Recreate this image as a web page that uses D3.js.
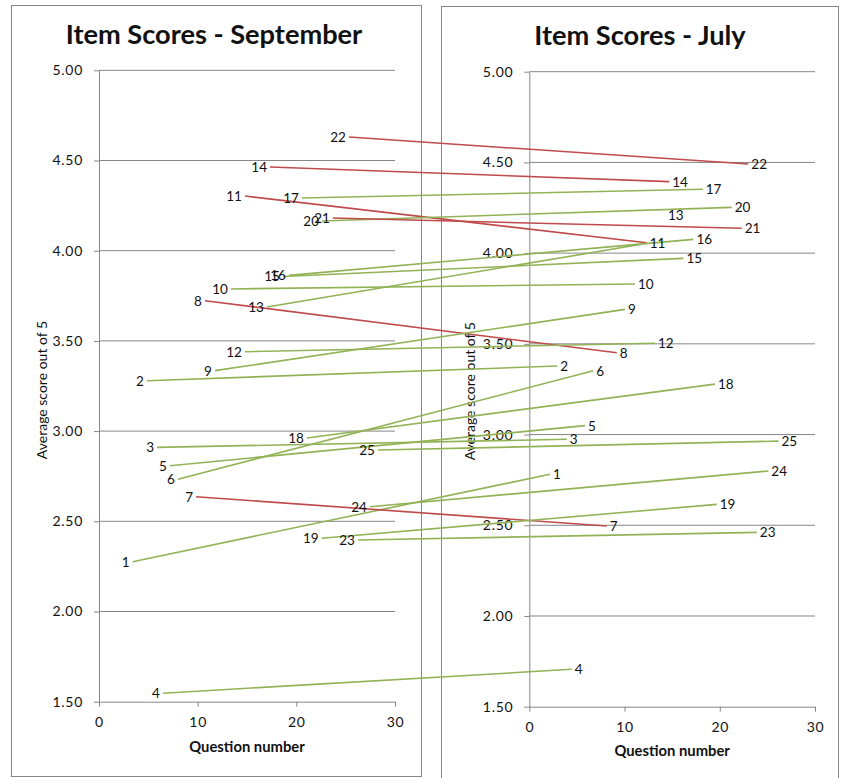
<!DOCTYPE html>
<html>
<head>
<meta charset="utf-8">
<title>Item Scores - September / July</title>
<script src="https://cdn.jsdelivr.net/npm/d3@7"></script>
<style>
  body { margin: 0; background: #fff; }
  svg { display: block; }
</style>
</head>
<body>
<svg id="chart" width="845" height="778"></svg>
<script>
// Item numbers
const items = [1, 2, 3, 4, 5, 6, 7, 8, 9, 10, 11, 12, 13, 14, 15, 16, 17, 18, 19, 20, 21, 22, 23, 24, 25];

// September: plotted question position and average score
const septX = [3.41, 4.86, 5.88, 6.48, 7.19, 8.0, 9.83, 10.74, 11.75, 13.37, 14.79, 14.79, 17.02,
               17.33, 18.64, 19.25, 20.57, 21.07, 22.56, 22.6, 23.7, 25.33, 26.24, 27.46, 28.27];
const septScore = [2.276, 3.279, 2.910, 1.547, 2.808, 2.733, 2.636, 3.723, 3.335, 3.788, 4.303, 3.440, 3.688,
                   4.464, 3.857, 3.863, 4.292, 2.962, 2.406, 4.165, 4.181, 4.630, 2.396, 2.581, 2.895];

// July: plotted question position and average score
const julyX = [2.17, 2.94, 3.93, 4.45, 5.85, 6.72, 8.13, 9.18, 10.05, 11.1, 12.33, 13.2, 11.94,
               14.7, 16.18, 17.23, 18.21, 19.5, 19.68, 21.26, 22.31, 23.0, 23.89, 25.1, 26.16];
const julyScore = [2.781, 3.378, 2.974, 1.706, 3.049, 3.352, 2.496, 3.451, 3.690, 3.830, 4.057, 3.503, 4.050,
                   4.394, 3.971, 4.076, 4.352, 3.278, 2.615, 4.252, 4.137, 4.491, 2.461, 2.799, 2.964];

// Axis ticks
const yTicks = [1.5, 2.0, 2.5, 3.0, 3.5, 4.0, 4.5, 5.0];
const xTicks = [0, 10, 20, 30];

const FONT = 'Lato, "Open Sans", sans-serif';
const GREY = '#868686';
const UP = '#92b256';
const DOWN = '#bf4b4b';

const svg = d3.select('#chart');

// Draws one framed scatter panel and returns its scales
function panel(p) {
  const x = d3.scaleLinear().domain([0, 30]).range([p.left, p.right]);
  const y = d3.scaleLinear().domain([1.5, 5]).range([p.bottom, p.top]);
  const g = svg.append('g');

  g.append('rect')
    .attr('x', p.frame[0]).attr('y', p.frame[1])
    .attr('width', p.frame[2] - p.frame[0]).attr('height', p.frame[3] - p.frame[1])
    .attr('fill', 'none').attr('stroke', GREY).attr('stroke-width', 1);

  g.append('g').selectAll('line')
    .data(yTicks.slice(1))
    .join('line')
    .attr('x1', x(0)).attr('x2', x(30))
    .attr('y1', d => y(d)).attr('y2', d => y(d))
    .attr('stroke', GREY).attr('stroke-width', 1);

  const yAxis = g.append('g')
    .attr('transform', `translate(${x(0)},0)`)
    .call(d3.axisLeft(y).tickValues(yTicks).tickFormat(d3.format('.2f'))
      .tickSize(5).tickSizeOuter(0).tickPadding(11));

  const xAxis = g.append('g')
    .attr('transform', `translate(0,${y(1.5)})`)
    .call(d3.axisBottom(x).tickValues(xTicks).tickFormat(d3.format('d'))
      .tickSize(5).tickSizeOuter(0).tickPadding(10));

  [yAxis, xAxis].forEach(a => {
    a.select('.domain').attr('stroke', GREY);
    a.selectAll('.tick line').attr('stroke', GREY);
    a.selectAll('.tick text').attr('fill', '#111')
      .style('font-family', FONT).style('font-size', '14px').style('letter-spacing', '0.7px');
  });

  g.append('text')
    .attr('x', p.titleX).attr('y', p.titleY)
    .attr('text-anchor', 'middle')
    .style('font-family', FONT).style('font-size', '27.2px').style('font-weight', 700)
    .attr('fill', '#111')
    .text(p.title);

  g.append('text')
    .attr('x', (x(0) + x(30)) / 2).attr('y', p.xTitleY)
    .attr('text-anchor', 'middle')
    .style('font-family', FONT).style('font-size', '14.8px').style('font-weight', 700)
    .attr('fill', '#111')
    .text('Question number');

  g.append('text')
    .attr('transform', `translate(${p.yTitleX},${(y(1.5) + y(5)) / 2 + p.yTitleShift}) rotate(-90)`)
    .attr('text-anchor', 'middle')
    .style('font-family', FONT).style('font-size', '14px')
    .attr('fill', '#111')
    .text('Average score out of 5');

  return { x, y };
}

const sept = panel({
  title: 'Item Scores - September', titleX: 214, titleY: 44,
  left: 99, right: 395, top: 70.3, bottom: 701.7,
  frame: [11.5, 5.5, 421.5, 776.5],
  xTitleY: 752, yTitleX: 47, yTitleShift: 4
});

const july = panel({
  title: 'Item Scores - July', titleX: 640, titleY: 45,
  left: 529.3, right: 815, top: 71.7, bottom: 706.7,
  frame: [441.5, 6.5, 838.5, 800],
  xTitleY: 756, yTitleX: 475, yTitleShift: 2
});

// One connector per item, from its September point to its July point
const rows = items.map((id, i) => ({
  id,
  x1: sept.x(septX[i]), y1: sept.y(septScore[i]),
  x2: july.x(julyX[i]), y2: july.y(julyScore[i]),
  up: julyScore[i] >= septScore[i]
}));

svg.append('g').selectAll('line')
  .data(rows)
  .join('line')
  .attr('x1', d => d.x1).attr('y1', d => d.y1)
  .attr('x2', d => d.x2).attr('y2', d => d.y2)
  .attr('stroke', d => d.up ? UP : DOWN)
  .attr('stroke-width', 1.6);

// Item-number labels: left of September points, right of July points
const julyNudge = { 13: [22, -29] };

svg.append('g').selectAll('text')
  .data(rows)
  .join('text')
  .attr('x', d => d.x1 - 3).attr('y', d => d.y1)
  .attr('dy', '0.36em')
  .attr('text-anchor', 'end')
  .style('font-family', FONT).style('font-size', '13.5px')
  .attr('fill', '#111')
  .text(d => d.id);

svg.append('g').selectAll('text')
  .data(rows)
  .join('text')
  .attr('x', d => d.x2 + 3 + (julyNudge[d.id] ? julyNudge[d.id][0] : 0))
  .attr('y', d => d.y2 + (julyNudge[d.id] ? julyNudge[d.id][1] : 0))
  .attr('dy', '0.36em')
  .attr('text-anchor', 'start')
  .style('font-family', FONT).style('font-size', '13.5px')
  .attr('fill', '#111')
  .text(d => d.id);
</script>
</body>
</html>
